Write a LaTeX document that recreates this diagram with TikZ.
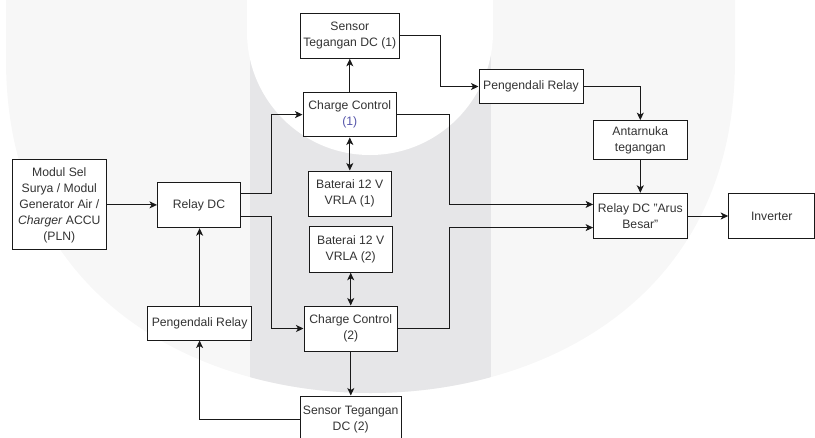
\documentclass[tikz,border=0pt]{standalone}
\usepackage{fontspec}
\setmainfont{Liberation Sans}
\usetikzlibrary{arrows.meta,calc}
\definecolor{txt}{RGB}{51,51,51}
\definecolor{ln}{RGB}{25,25,25}
\definecolor{wmA}{RGB}{247,247,247}
\definecolor{wmB}{RGB}{230,230,232}
\definecolor{blu}{RGB}{85,85,170}
\tikzset{
  box/.style={draw=ln, line width=1pt, fill=white, text=txt, align=center,
    inner sep=0pt, font=\fontsize{12.2}{16}\selectfont},
  tip/.tip={Stealth[length=7.5pt,width=7pt,inset=2pt]},
  conn/.style={draw=ln, line width=1pt, -tip},
  dconn/.style={draw=ln, line width=1pt, tip-tip},
}
\begin{document}
\begin{tikzpicture}[x=1pt,y=-1pt]
\useasboundingbox (0,0) rectangle (815,437);
% watermark
\fill[wmA] (6,-5) -- (6,60) .. controls (6,300) and (200,393) .. (370.5,393)
  .. controls (541,393) and (735,300) .. (735,60) -- (735,-5) -- cycle;
\begin{scope}
\clip (6,-5) -- (6,60) .. controls (6,300) and (200,393) .. (370.5,393)
  .. controls (541,393) and (735,300) .. (735,60) -- (735,-5) -- cycle;
\fill[wmB] (250,-5) rectangle (491,440);
\end{scope}
\fill[white] (247,-5) rectangle (493,32);
\fill[white] (370,32) circle[radius=123];

% nodes
\node[box, minimum width=93.5pt, minimum height=90pt] (mod) at (59.3,204.9)
  {Modul Sel\\Surya / Modul\\Generator Air /\\\textit{Charger} ACCU\\(PLN)};
\node[box, minimum width=83pt, minimum height=45.4pt] (rdc) at (199,205) {Relay DC};
\node[box, minimum width=99pt, minimum height=45pt] (s1) at (349.8,35.8) {Sensor\\Tegangan DC (1)};
\node[box, minimum width=93.6pt, minimum height=44.7pt] (cc1) at (349.8,114.6) {Charge Control\\\textcolor{blu}{(1)}};
\node[box, minimum width=83.4pt, minimum height=45pt] (b1) at (349.7,193.5) {Baterai 12 V\\VRLA (1)};
\node[box, minimum width=83.4pt, minimum height=45.3pt] (b2) at (350.7,249.6) {Baterai 12 V\\VRLA (2)};
\node[box, minimum width=93.6pt, minimum height=45pt] (cc2) at (350.8,328.5) {Charge Control\\(2)};
\node[box, minimum width=100.6pt, minimum height=46pt] (s2) at (350.7,419) {Sensor Tegangan\\DC (2)};
\node[box, minimum width=104pt, minimum height=34pt] (pl) at (199.6,323) {Pengendali Relay};
\node[box, minimum width=104pt, minimum height=33.6pt] (pr) at (531,86.5) {Pengendali Relay};
\node[box, minimum width=93.4pt, minimum height=39.3pt] (ant) at (640.3,140.3) {Antarnuka\\tegangan};
\node[box, minimum width=93.4pt, minimum height=45.4pt] (rab) at (640.3,216) {Relay DC "Arus\\Besar"};
\node[box, minimum width=86pt, minimum height=45.4pt] (inv) at (771.7,216) {Inverter};

% connectors
\draw[conn] (mod.east) -- (mod.east -| rdc.west);
\draw[conn] ($(rdc.north east)!.25!(rdc.south east)$) -- ++(30.7,0) |- (cc1.west);
\draw[conn] ($(rdc.north east)!.75!(rdc.south east)$) -- ++(30.7,0) |- (cc2.west);
\draw[conn] (cc1.north) -- (cc1.north |- s1.south);
\draw[dconn] (cc1.south) -- (cc1.south |- b1.north);
\draw[dconn] (b2.south) -- (b2.south |- cc2.north);
\draw[conn] (cc2.south) -- (cc2.south |- s2.north);
\draw[conn] (s1.east) -- ++(40.8,0) |- (pr.west);
\draw[conn] (pr.east) -| (ant.north);
\draw[conn] (ant.south) -- (ant.south |- rab.north);
\draw[conn] (cc1.east) -- ++(51.9,0) |- ($(rab.north west)!.25!(rab.south west)$);
\draw[conn] (cc2.east) -- ++(50.9,0) |- ($(rab.north west)!.75!(rab.south west)$);
\draw[conn] (rab.east) -- (rab.east -| inv.west);
\draw[conn] (s2.west) -| (pl.south);
\draw[conn] (pl.north) -- (pl.north |- rdc.south);
\end{tikzpicture}
\end{document}
